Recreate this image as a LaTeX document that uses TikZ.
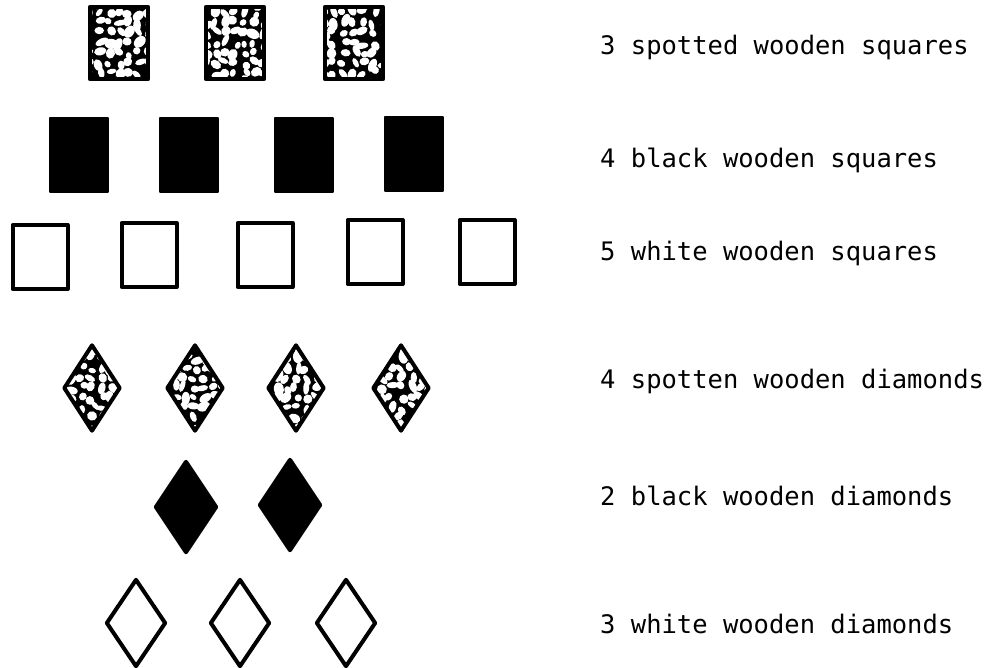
\documentclass[tikz,border=0pt]{standalone}
\usepackage{fontspec}
\setmonofont{DejaVu Sans Mono}
\usetikzlibrary{shapes.geometric}

\begin{document}
\begin{tikzpicture}[x=1pt, y=-1pt,
  spots/.style={fill=black, path picture={
    \foreach \i in {-3,...,3}{\foreach \j in {-4,...,4}{
      \pgfmathsetmacro{\dx}{\i*10+3*rand}
      \pgfmathsetmacro{\dy}{\j*10+3*rand}
      \pgfmathsetmacro{\rx}{2.5+2.5*rnd}
      \pgfmathsetmacro{\ry}{3.5+3.5*rnd}
      \pgfmathsetmacro{\rot}{180*rnd}
      \fill[white] ([shift={(\dx pt,\dy pt)}]path picture bounding box.center)
        circle[x radius=\rx pt, y radius=\ry pt, rotate=\rot];
    }}}},
  sqbox/.style={draw, rectangle, inner sep=0pt, line join=round},
  spotbox/.style={sqbox, spots, line width=4.5pt, minimum width=58pt, minimum height=72pt},
  blackbox/.style={sqbox, fill=black, line width=2pt, minimum width=58pt, minimum height=74pt},
  whitebox/.style={sqbox, line width=4pt, minimum width=55pt, minimum height=64pt},
  diabox/.style={draw, diamond, inner sep=0pt, line width=4pt, line join=round},
  spotdia/.style={diabox, spots, minimum width=57pt, minimum height=87pt},
  blackdia/.style={diabox, fill=black, minimum width=62pt, minimum height=92pt},
  whitedia/.style={diabox, minimum width=60pt, minimum height=88pt},
  lbl/.style={anchor=base west, inner sep=0pt, font=\ttfamily\fontsize{25.5}{30}\selectfont}
]
\pgfmathsetseed{4242}
\useasboundingbox (0,0) rectangle (993,667);

% spotted squares
\node[spotbox] (sp1) at (119,43) {};
\node[spotbox] (sp2) at (235,43) {};
\node[spotbox] (sp3) at (354,43) {};
\node[lbl] (l1) at (600,54) {3 spotted wooden squares};

% black squares
\node[blackbox] (bk1) at (79,155) {};
\node[blackbox] (bk2) at (189,155) {};
\node[blackbox] (bk3) at (304,155) {};
\node[blackbox] (bk4) at (414,154) {};
\node[lbl] (l2) at (600,167) {4 black wooden squares};

% white squares
\node[whitebox] (wh1) at (40,257) {};
\node[whitebox] (wh2) at (149,255) {};
\node[whitebox] (wh3) at (265,255) {};
\node[whitebox] (wh4) at (375,252) {};
\node[whitebox] (wh5) at (487,252) {};
\node[lbl] (l3) at (600,260) {5 white wooden squares};

% spotted diamonds
\node[spotdia] (sd1) at (92,388) {};
\node[spotdia] (sd2) at (195,388) {};
\node[spotdia] (sd3) at (296,388) {};
\node[spotdia] (sd4) at (401,388) {};
\node[lbl] (l4) at (600,388) {4 spotten wooden diamonds};

% black diamonds
\node[blackdia] (bd1) at (186,507) {};
\node[blackdia] (bd2) at (290,505) {};
\node[lbl] (l5) at (600,505) {2 black wooden diamonds};

% white diamonds
\node[whitedia] (wd1) at (136,623) {};
\node[whitedia] (wd2) at (240,623) {};
\node[whitedia] (wd3) at (346,623) {};
\node[lbl] (l6) at (600,633) {3 white wooden diamonds};
\end{tikzpicture}
\end{document}
